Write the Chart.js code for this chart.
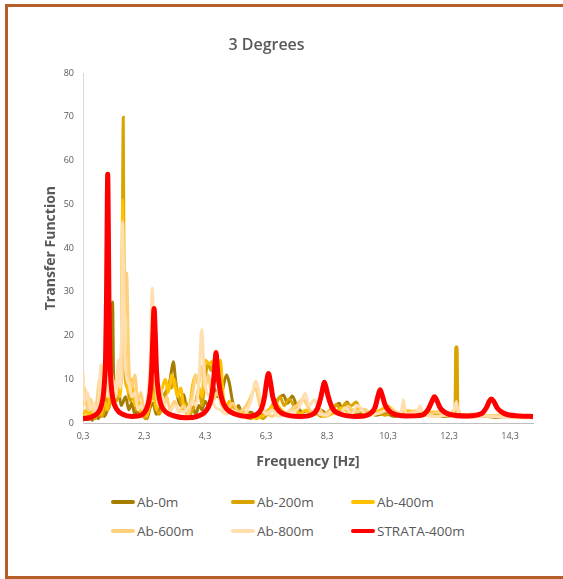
<!DOCTYPE html>
<html>
<head>
<meta charset="utf-8">
<title>3 Degrees</title>
<script src="https://cdn.jsdelivr.net/npm/chart.js@4/dist/chart.umd.min.js"></script>
<style>
    html, body { margin: 0; padding: 0; background: #fff; overflow: hidden; }
    body { width: 563px; height: 579px; position: relative; font-family: "Open Sans", sans-serif; }
    #frame { position: absolute; left: 5px; top: 4px; width: 570px; height: 575px; box-sizing: border-box; border: 3px solid #B55E27; }
    #chartBox { position: absolute; left: 0; top: 0; width: 563px; height: 480px; }
    #legend { position: absolute; left: 111px; top: 487px; display: grid; grid-template-columns: 120px 120px 120px; grid-auto-rows: 29px; align-items: center; }
    .item { display: flex; align-items: center; font-size: 13.5px; color: #595959; white-space: nowrap; }
    .swatch { display: inline-block; width: 24px; height: 4px; border-radius: 2px; margin-right: 2px; }
</style>
</head>
<body>
<div id="frame"></div>
<div id="chartBox"><canvas id="tfChart"></canvas></div>
<div id="legend"></div>

<script>
// Tick positions on the frequency axis
const xTickValues = [0.3, 2.3, 4.3, 6.3, 8.3, 10.3, 12.3, 14.3];

// [frequency Hz, transfer function]
const ab0m = [[0.3,2],[0.4,0.8],[0.5,1.5],[0.6,0.6],[0.7,1.8],[0.8,1],[0.9,2.5],[1.0,1.5],[1.1,3],[1.18,5],[1.24,14],[1.27,27.7],[1.3,12],[1.35,6],[1.45,8],[1.55,4],[1.7,6],[1.8,3],[1.9,4.5],[2.0,2],[2.1,3],[2.2,1.5],[2.3,2.5],[2.4,1],[2.5,3.5],[2.6,4.5],[2.7,2],[2.8,3],[2.9,5],[3.0,7],[3.1,8],[3.18,11],[3.26,14],[3.33,10],[3.4,6],[3.5,4],[3.6,6.5],[3.7,3],[3.8,2],[3.9,3.5],[4.0,2],[4.1,4],[4.2,3],[4.3,5],[4.4,4],[4.5,6],[4.6,8],[4.7,6],[4.85,7],[4.95,10],[5.01,11],[5.1,9],[5.2,5],[5.3,3],[5.4,4],[5.5,2],[5.6,1.5],[5.8,2.5],[6.0,1.5],[6.2,2],[6.4,3],[6.55,4.5],[6.7,5.5],[6.87,6.4],[7.0,4.5],[7.16,6.2],[7.3,4],[7.5,2.5],[7.7,3],[7.9,2],[8.1,3],[8.3,2],[8.5,3.5],[8.7,4.5],[8.8,3],[8.95,4.8],[9.1,3],[9.3,2],[9.6,2.5],[9.9,1.8],[10.2,2.2],[10.5,1.5],[10.9,2],[11.3,1.5],[11.7,2],[12.1,1.5],[12.5,1.8],[12.9,1.4],[13.4,1.6],[13.9,1.3],[14.4,1.5],[15.05,1.2]];

const ab200m = [[0.3,0.5],[0.4,1.5],[0.5,0.8],[0.6,2],[0.7,1],[0.8,2.5],[0.9,1.5],[1.0,3],[1.05,6],[1.09,12],[1.12,3],[1.2,5],[1.3,7],[1.4,5],[1.5,9],[1.57,20],[1.6,55],[1.62,69.9],[1.64,40],[1.67,12],[1.75,8],[1.85,5],[1.95,6],[2.05,3],[2.15,4],[2.25,2],[2.35,1],[2.45,3],[2.55,6],[2.62,10],[2.7,4],[2.8,2],[2.9,4],[3.0,6],[3.1,9],[3.2,8],[3.3,10],[3.4,7],[3.5,5],[3.6,3],[3.7,4.5],[3.8,2],[3.9,3],[4.0,5],[4.1,8],[4.2,4],[4.3,10],[4.4,13.5],[4.5,12],[4.6,14],[4.7,10],[4.8,7],[4.9,5],[5.0,3],[5.1,4],[5.25,2.5],[5.4,3],[5.6,1.5],[5.8,1],[6.0,2],[6.2,1],[6.4,2.5],[6.6,3.5],[6.75,6],[6.9,4],[7.05,5.5],[7.25,3.5],[7.45,2],[7.7,1.5],[7.9,2.5],[8.1,1.5],[8.4,3],[8.6,4.2],[8.75,3],[8.9,4.5],[9.1,4],[9.25,4.8],[9.4,3],[9.6,2],[9.9,2.5],[10.2,1.8],[10.5,2.5],[10.8,1.7],[11.1,2.2],[11.5,1.8],[11.9,2],[12.3,1.6],[12.49,2],[12.52,17.4],[12.56,17.4],[12.59,2],[12.8,1.5],[13.2,1.8],[13.7,1.5],[14.2,1.6],[14.7,1.3],[15.05,1.4]];

const ab400m = [[0.3,1.5],[0.4,3],[0.5,1.5],[0.6,4],[0.7,2],[0.8,3.5],[0.9,2],[1.0,5],[1.1,3],[1.2,7],[1.3,4],[1.4,10],[1.5,6],[1.56,15],[1.6,51],[1.64,30],[1.7,14],[1.8,7],[1.9,10],[2.0,4],[2.1,6],[2.2,2],[2.3,3],[2.4,1.5],[2.5,5],[2.6,7],[2.7,3],[2.8,6],[2.9,8],[3.0,10],[3.1,7],[3.2,11],[3.3,9],[3.4,6],[3.5,8],[3.6,4],[3.7,2],[3.8,4],[3.9,9],[4.0,11],[4.1,8],[4.2,6],[4.3,14.4],[4.45,13.5],[4.55,14.2],[4.7,12],[4.8,14.4],[4.9,6],[5.0,4],[5.1,5],[5.2,3],[5.4,2],[5.6,2.5],[5.8,1.5],[6.0,1],[6.2,1.8],[6.4,3],[6.6,4.5],[6.8,3],[7.0,2],[7.2,3.5],[7.4,2],[7.6,3],[7.8,1.8],[8.0,2.8],[8.2,1.5],[8.5,2.2],[8.8,3.5],[9.0,2.5],[9.3,3.2],[9.6,2],[10.0,2.8],[10.3,3.8],[10.6,2.2],[11.0,2.8],[11.4,2],[11.8,2.5],[12.2,2.2],[12.6,1.6],[13.0,2],[13.5,1.6],[14.0,1.8],[14.5,1.4],[15.05,1.6]];

const ab600m = [[0.3,4],[0.35,8],[0.45,3],[0.55,5.5],[0.65,2.5],[0.75,5],[0.85,10],[0.95,5],[1.05,11],[1.15,6],[1.25,10],[1.35,8],[1.45,12],[1.55,9],[1.65,22],[1.73,34.3],[1.8,14],[1.9,8],[2.0,11],[2.1,5],[2.2,7],[2.3,3],[2.4,4],[2.5,10],[2.57,22],[2.65,12],[2.75,5],[2.85,8],[2.95,4],[3.05,6],[3.15,3],[3.3,5],[3.45,2.5],[3.6,4],[3.75,2],[3.9,7],[4.0,11],[4.1,9],[4.2,13],[4.3,8],[4.4,11],[4.55,5],[4.7,7],[4.85,4],[5.0,3],[5.2,4.5],[5.4,2.5],[5.6,3.5],[5.8,6],[5.95,8],[6.1,4],[6.3,2.5],[6.5,1.5],[6.7,2.5],[6.9,1.8],[7.1,3],[7.3,4],[7.5,5.5],[7.65,4],[7.8,2.5],[8.0,3.5],[8.2,2],[8.5,3],[8.7,2.2],[9.0,3.8],[9.2,2.5],[9.5,3.2],[9.8,2],[10.1,2.6],[10.4,3.2],[10.7,2],[10.8,4],[10.9,2.2],[11.2,2.8],[11.5,1.8],[11.9,2.4],[12.3,2],[12.55,3.5],[12.7,1.8],[13.1,2],[13.6,1.6],[14.1,1.8],[14.6,1.5],[15.05,1.7]];

const ab800m = [[0.3,12],[0.35,5],[0.45,7],[0.55,3],[0.65,4.5],[0.75,2],[0.82,6],[0.89,13.3],[0.95,4],[1.0,8],[1.05,13],[1.1,6],[1.2,12],[1.3,9],[1.38,6],[1.46,14.4],[1.52,8],[1.56,20],[1.6,46],[1.64,30],[1.7,12],[1.8,9],[1.9,6],[2.0,7],[2.1,3],[2.2,4],[2.3,2.5],[2.4,5],[2.5,14],[2.57,30.8],[2.63,20],[2.7,8],[2.8,4],[2.9,6],[3.0,3],[3.1,2],[3.3,4],[3.5,2.5],[3.7,3],[3.9,5],[4.0,4],[4.1,10],[4.19,21.4],[4.27,12],[4.35,7],[4.5,6],[4.6,4],[4.8,3],[5.0,2],[5.2,3],[5.4,1.5],[5.6,2],[5.8,5],[5.97,9.6],[6.1,6],[6.3,2],[6.5,3],[6.7,1.5],[7.0,2.5],[7.3,3],[7.45,4.5],[7.58,6.8],[7.7,4],[7.9,5.3],[8.05,2],[8.3,1.8],[8.5,3],[8.7,2.2],[8.9,3.5],[9.1,2],[9.3,4],[9.5,2.5],[9.7,1.8],[10.0,2.2],[10.3,3],[10.6,2],[10.75,3],[10.8,5.3],[10.86,2.5],[11.0,2],[11.25,2.5],[11.35,3.9],[11.45,2],[11.8,1.5],[12.2,1.8],[12.45,2.5],[12.54,4.9],[12.62,1.5],[13.0,1.3],[13.5,1.6],[14.0,1.4],[14.5,1.2],[15.05,1.2]];

const strata400m = [[0.3,1.0],[0.5,1.2],[0.7,1.8],[0.85,3.0],[0.95,5.5],[1.0,9],[1.04,15],[1.07,28],[1.09,45],[1.11,56.9],[1.13,45],[1.15,28],[1.18,15],[1.22,9],[1.28,5.5],[1.4,3.2],[1.6,2.0],[1.9,1.5],[2.1,1.6],[2.3,2.3],[2.42,4],[2.5,7],[2.55,12],[2.59,20],[2.63,26.2],[2.67,20],[2.71,12],[2.77,7],[2.85,4.3],[3.0,2.6],[3.3,1.6],[3.7,1.2],[4.0,1.4],[4.25,2.2],[4.4,3.5],[4.5,5.5],[4.57,9],[4.62,13],[4.66,16.1],[4.7,13],[4.76,9],[4.85,5.5],[5.0,3.3],[5.3,2.0],[5.7,1.5],[6.0,2.0],[6.15,3.3],[6.25,6],[6.32,9.5],[6.38,11.3],[6.44,9.5],[6.52,6],[6.65,3.4],[6.9,2.0],[7.4,1.5],[7.8,1.9],[7.98,3.2],[8.1,6],[8.17,8.3],[8.21,9.3],[8.26,8.3],[8.34,6],[8.48,3.3],[8.75,2.0],[9.3,1.5],[9.7,2.1],[9.87,3.5],[9.97,6.2],[10.04,7.6],[10.1,6.5],[10.2,4.2],[10.4,2.4],[10.9,1.6],[11.4,1.8],[11.62,3.2],[11.74,5.0],[11.82,6.0],[11.9,5.1],[12.02,3.3],[12.3,2.0],[12.9,1.6],[13.35,2.1],[13.52,3.5],[13.62,5.0],[13.68,5.5],[13.76,5.0],[13.88,3.4],[14.1,2.2],[14.6,1.6],[15.05,1.5]];

const seriesNames = ["Ab-0m", "Ab-200m", "Ab-400m", "Ab-600m", "Ab-800m", "STRATA-400m"];
const seriesColors = ["#A67D00", "#D9A300", "#FFC000", "#FFD07A", "#FFDFB0", "#FF0000"];
const seriesData = [ab0m, ab200m, ab400m, ab600m, ab800m, strata400m];

const textColor = "#595959";

function buildDatasets() {
    return seriesData.map((points, i) => ({
        label: seriesNames[i],
        data: points.map(([f, v]) => ({ x: f, y: v })),
        borderColor: seriesColors[i],
        backgroundColor: seriesColors[i],
        borderWidth: i === 5 ? 5 : 3,
        pointRadius: 0,
        cubicInterpolationMode: "monotone",
        // later series sit on top, like in the spreadsheet
        order: seriesData.length - i,
    }));
}

function buildLegend(chart) {
    const legend = document.getElementById("legend");
    legend.innerHTML = chart.data.datasets
        .map(
            (ds) =>
                `<div class="item"><span class="swatch" style="background:${ds.borderColor}"></span>${ds.label}</div>`
        )
        .join("");
}

const ctx = document.getElementById("tfChart").getContext("2d");
const chart = new Chart(ctx, {
    type: "line",
    data: { datasets: buildDatasets() },
    options: {
        responsive: true,
        maintainAspectRatio: false,
        animation: false,
        layout: { padding: { left: 0, right: 30, top: 0, bottom: 0 } },
        plugins: {
            legend: { display: false },
            tooltip: { enabled: false },
            title: {
                display: true,
                text: "3 Degrees",
                color: textColor,
                font: { family: "Open Sans", size: 16, weight: "600" },
                padding: { top: 36, bottom: 18 },
            },
        },
        scales: {
            x: {
                type: "linear",
                min: 0.3,
                max: 15.05,
                afterBuildTicks: (scale) => {
                    scale.ticks = xTickValues.map((v) => ({ value: v }));
                },
                afterFit: (scale) => {
                    scale.height = 57;
                },
                ticks: {
                    color: textColor,
                    font: { family: "Open Sans", size: 9 },
                    padding: 8,
                    maxRotation: 0,
                    callback: (v) => v.toFixed(1).replace(".", ","),
                },
                grid: { display: false, drawTicks: false },
                border: { display: true, color: "#BFBFBF", width: 1 },
                title: {
                    display: true,
                    text: "Frequency [Hz]",
                    color: textColor,
                    font: { family: "Open Sans", size: 14, weight: "bold" },
                    padding: { top: 0, bottom: 10 },
                },
            },
            y: {
                min: 0,
                max: 80,
                afterFit: (scale) => {
                    scale.width = 83;
                },
                ticks: {
                    stepSize: 10,
                    color: textColor,
                    font: { family: "Open Sans", size: 9 },
                    padding: 9,
                },
                grid: { display: false, drawTicks: false },
                border: { display: true, color: "#D9D9D9", width: 1 },
                title: {
                    display: true,
                    text: "Transfer Function",
                    color: textColor,
                    font: { family: "Open Sans", size: 14, weight: "bold" },
                    padding: { top: 43, bottom: 0 },
                },
            },
        },
    },
});

buildLegend(chart);
</script>
</body>
</html>
